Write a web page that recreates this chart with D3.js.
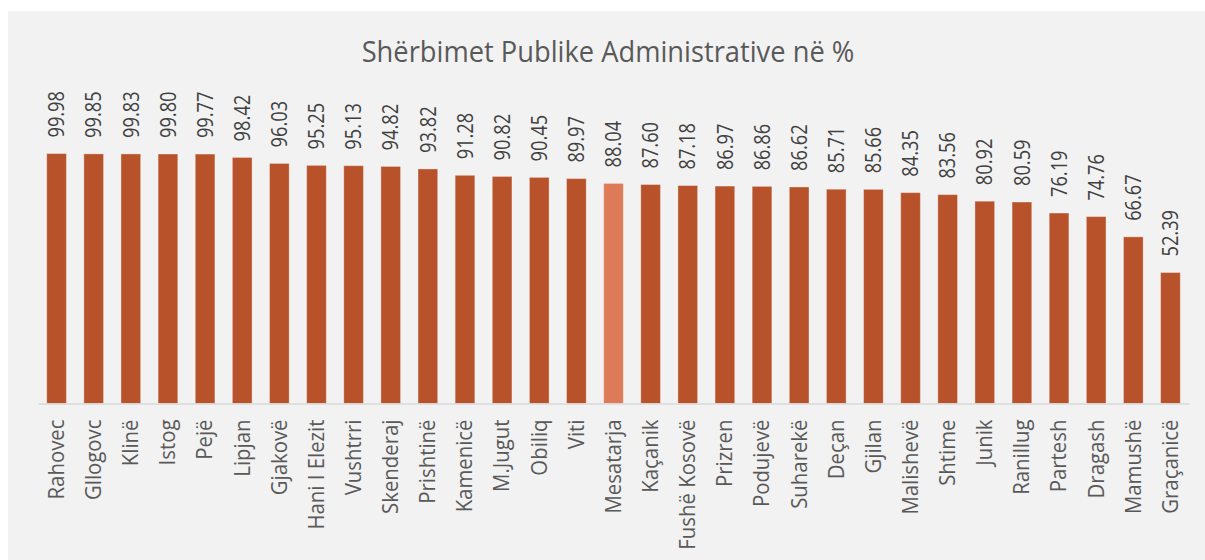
<!DOCTYPE html>
<html>

<head>
  <meta charset="utf-8">
  <title>Shërbimet Publike Administrative</title>
  <script src="https://cdnjs.cloudflare.com/ajax/libs/d3/7.8.5/d3.min.js"></script>
  <style>
    html,
    body {
      margin: 0;
      padding: 0;
      background: #fff;
    }

    text {
      font-family: 'Open Sans', sans-serif;
      fill: #595959;
    }
  </style>
</head>

<body>
  <svg id="chart" width="1205" height="560"></svg>
  <script>
    let municipalities = ['Rahovec', 'Gllogovc', 'Klinë', 'Istog', 'Pejë', 'Lipjan', 'Gjakovë', 'Hani I Elezit',
      'Vushtrri', 'Skenderaj', 'Prishtinë', 'Kamenicë', 'M.Jugut', 'Obiliq', 'Viti', 'Mesatarja', 'Kaçanik',
      'Fushë Kosovë', 'Prizren', 'Podujevë', 'Suharekë', 'Deçan', 'Gjilan', 'Malishevë', 'Shtime', 'Junik',
      'Ranillug', 'Partesh', 'Dragash', 'Mamushë', 'Graçanicë']
    let percentages = [99.98, 99.85, 99.83, 99.80, 99.77, 98.42, 96.03, 95.25, 95.13, 94.82, 93.82, 91.28,
      90.82, 90.45, 89.97, 88.04, 87.60, 87.18, 86.97, 86.86, 86.62, 85.71, 85.66, 84.35, 83.56, 80.92,
      80.59, 76.19, 74.76, 66.67, 52.39]
    let averageName = 'Mesatarja'
    let title = 'Shërbimet Publike Administrative në %'

    let colorBar = '#b7522a'
    let colorAvg = '#dd7b59'

    let svg = d3.select('#chart')

    // grey chart area
    svg.append('rect')
      .attr('x', 8).attr('y', 11)
      .attr('width', 1205).attr('height', 560)
      .attr('fill', '#f2f2f2')

    let data = municipalities.map((name, i) => ({ name, value: percentages[i] }))

    let x = d3.scaleBand()
      .domain(municipalities)
      .range([38, 1189])
      .paddingInner(0.47)
      .paddingOuter(0.235)

    let y = d3.scaleLinear()
      .domain([0, 100])
      .range([403.5, 153.5])

    // the original font is narrower than Open Sans, so squeeze along the text
    svg.append('text')
      .attr('transform', 'translate(608,62) scale(0.91,1)')
      .attr('text-anchor', 'middle')
      .style('font-size', '30px')
      .text(title)

    svg.append('g')
      .selectAll('rect')
      .data(data)
      .join('rect')
      .attr('x', d => x(d.name))
      .attr('width', x.bandwidth())
      .attr('y', d => y(d.value))
      .attr('height', d => y(0) - y(d.value))
      .attr('fill', d => d.name === averageName ? colorAvg : colorBar)
      .attr('stroke', 'rgba(255,255,255,0.35)')
      .attr('stroke-width', 1)

    // baseline
    let axis = svg.append('g')
      .attr('transform', `translate(0,${y(0)})`)
      .call(d3.axisBottom(x).tickSize(0).tickPadding(0))
    axis.select('.domain').attr('stroke', '#d9d9d9').attr('stroke-width', 1.5)
    axis.selectAll('.tick text')
      .attr('fill', '#595959')
      .style('font-size', '21px')
      .style('font-family', "'Open Sans', sans-serif")
      .attr('text-anchor', 'end')
      .attr('transform', 'translate(0,16) rotate(-90) scale(0.97,1)')
      .attr('x', 0).attr('y', 0).attr('dy', '0.35em')

    // value labels
    svg.append('g')
      .selectAll('text')
      .data(data)
      .join('text')
      .attr('transform', d => `translate(${x(d.name) + x.bandwidth() / 2},${y(d.value) - 16}) rotate(-90) scale(0.83,1)`)
      .attr('dy', '0.35em')
      .style('font-size', '22px')
      .style('fill', '#404040')
      .text(d => d.value.toFixed(2))
  </script>
</body>

</html>
